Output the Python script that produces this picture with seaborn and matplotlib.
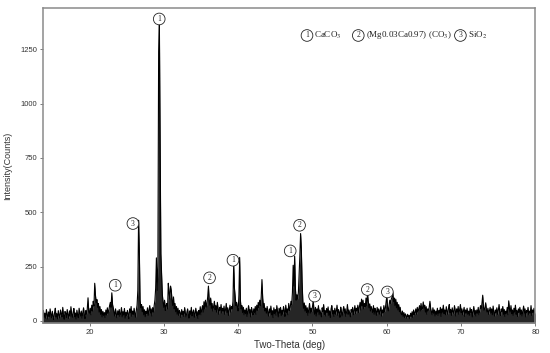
import numpy as np
import pandas as pd
import matplotlib
matplotlib.use('Agg')
import matplotlib.pyplot as plt
import seaborn as sns

# === XRD scan: 13.7 - 80.0 deg, step 0.1 deg ===
start_angle = 13.7
step = 0.1

counts_13 = [22, 48, 15,
             35, 12, 52, 28, 8, 41, 19, 55, 30, 14,
             44, 20, 6, 38, 58, 17, 33, 9, 47, 26,
             13, 50, 31, 18, 62, 24, 7, 43, 36, 15,
             52, 28, 11, 46, 21, 65, 30, 16, 40, 57,
             19, 36, 8, 49, 27, 14, 58, 33, 22, 45,
             12, 38, 60, 25, 10, 47, 31, 55, 106, 42]
counts_20 = [35, 58, 28, 72, 45, 90, 68, 173, 118, 85,
             98, 62, 80, 40, 66, 30, 52, 18, 44, 25,
             38, 15, 50, 27, 60, 33, 48, 70, 85, 62,
             129, 75, 58, 40, 22, 55, 30, 14, 46, 28,
             52, 20, 36, 61, 18, 42, 27, 57, 12, 39,
             24, 48, 31, 10, 55, 37, 66, 21, 45, 29,
             58, 34, 17, 49, 72, 140, 463, 330, 95, 60,
             75, 42, 66, 28, 51, 19, 44, 33, 60, 25,
             48, 70, 36, 55, 22, 61, 40, 70, 95, 150,
             290, 140, 250, 1240, 1370, 820, 310, 210, 120, 85]
counts_30 = [62, 95, 48, 70, 80, 55, 173, 130, 100, 160,
             140, 95, 70, 110, 55, 80, 42, 66, 30, 58,
             25, 48, 36, 15, 52, 28, 44, 20, 61, 33,
             18, 40, 55, 27, 12, 46, 30, 62, 22, 38,
             50, 16, 35, 58, 24, 42, 11, 48, 30, 65,
             28, 52, 70, 40, 88, 55, 95, 62, 80, 110,
             160, 95, 72, 105, 58, 80, 45, 66, 90, 52,
             70, 40, 85, 55, 30, 62, 48, 75, 36, 58,
             44, 68, 30, 52, 80, 38, 60, 25, 49, 72,
             40, 65, 55, 90, 265, 150, 110, 70, 85, 60]
counts_40 = [45, 120, 292, 95, 55, 70, 38, 62, 28, 50,
             33, 58, 20, 46, 70, 35, 52, 18, 61, 40,
             27, 55, 38, 66, 30, 72, 48, 85, 60, 95,
             70, 110, 190, 105, 62, 80, 45, 58, 35, 66,
             40, 22, 55, 36, 68, 28, 47, 15, 60, 33,
             52, 26, 70, 41, 18, 58, 35, 62, 24, 49,
             30, 66, 45, 20, 72, 38, 55, 28, 80, 48,
             60, 90, 75, 130, 256, 160, 298, 150, 95, 120,
             100, 130, 210, 300, 402, 330, 180, 90, 58, 82,
             45, 70, 38, 60, 25, 52, 80, 35, 58, 42]
counts_50 = [66, 95, 48, 30, 62, 22, 55, 40, 70, 28,
             50, 35, 18, 60, 42, 75, 30, 48, 22, 57,
             38, 64, 25, 46, 15, 55, 70, 32, 48, 20,
             58, 30, 45, 72, 26, 52, 38, 16, 63, 40,
             22, 48, 66, 35, 55, 20, 44, 75, 30, 50,
             36, 18, 52, 40, 62, 28, 47, 70, 33, 58,
             45, 72, 38, 60, 85, 50, 100, 68, 95, 55,
             80, 65, 105, 70, 126, 90, 60, 78, 45, 66,
             52, 38, 70, 30, 58, 45, 25, 62, 40, 55,
             30, 48, 65, 22, 50, 36, 70, 42, 58, 85]
counts_60 = [114, 60, 45, 70, 95, 80, 100, 110, 133, 90,
             105, 70, 100, 60, 85, 50, 75, 42, 62, 35,
             28, 45, 20, 38, 15, 32, 22, 12, 30, 18,
             25, 10, 35, 20, 42, 16, 50, 28, 38, 55,
             30, 62, 40, 55, 70, 45, 80, 52, 60, 87,
             58, 72, 40, 65, 30, 55, 48, 62, 90, 55,
             42, 28, 60, 35, 50, 22, 45, 30, 58, 25,
             48, 36, 62, 20, 55, 40, 72, 33, 50, 28,
             65, 45, 30, 58, 75, 38, 52, 25, 60, 42,
             35, 70, 48, 22, 55, 40, 66, 30, 52, 75]
counts_70 = [38, 55, 28, 46, 62, 20, 50, 35, 58, 30,
             45, 25, 60, 38, 52, 18, 42, 66, 30, 48,
             22, 50, 35, 62, 28, 45, 70, 55, 80, 118,
             65, 48, 60, 83, 52, 40, 58, 30, 46, 62,
             35, 55, 28, 68, 40, 22, 50, 36, 60, 30,
             48, 75, 38, 25, 55, 42, 66, 30, 52, 20,
             45, 35, 62, 28, 92, 55, 40, 70, 33, 50,
             25, 58, 40, 72, 30, 48, 20, 55, 38, 62,
             30, 50, 22, 45, 68, 35, 55, 18, 48, 40,
             62, 28, 45, 35, 70, 25, 50, 38, 58, 30,
             42]

# === phase marks (circled numbers) ===
mark_x = [29.38, 25.84, 23.46, 36.15, 39.3, 47.0, 48.26, 50.28, 57.38, 60.07]
mark_y = [1390, 448, 164, 198, 279, 322, 440, 114, 144, 133]
mark_num = ['1', '3', '1', '2', '1', '1', '2', '3', '2', '3']

legend_num = ['1', '2', '3']
legend_text = [r'CaCO$_3$', r'(Mg0.03Ca0.97) (CO$_3$)', r'SiO$_2$']
legend_x = [49.26, 56.16, 69.9]

counts = counts_13 + counts_20 + counts_30 + counts_40 + counts_50 + counts_60 + counts_70
two_theta = np.round(start_angle + step * np.arange(len(counts)), 2)
df = pd.DataFrame({'two_theta': two_theta, 'counts': counts})

sns.set_style('white')
plt.rcParams['font.family'] = ['Liberation Sans', 'DejaVu Sans']
plt.rcParams['mathtext.fontset'] = 'stix'

fig = plt.figure(figsize=(5.5, 3.53), dpi=100)
ax = fig.add_axes([0.0776, 0.085, 0.896, 0.892])

# dense scan looks like a filled black band near the baseline
ax.fill_between(df['two_theta'], -10, df['counts'], color='black', lw=0, alpha=0.85)
sns.lineplot(data=df, x='two_theta', y='counts', color='black', lw=0.8,
             estimator=None, ax=ax)

ax.set_xlim(13.7, 80)
ax.set_ylim(-10, 1440)
ax.set_xticks([20, 30, 40, 50, 60, 70, 80])
ax.set_yticks([0, 250, 500, 750, 1000, 1250])
ax.tick_params(axis='both', labelsize=5.5, labelcolor='#333333', length=2,
               width=0.6, color='#666666', direction='out', pad=2)
ax.tick_params(bottom=True, left=True)
for sp in ax.spines.values():
    sp.set_color('#8a8a8a')
    sp.set_linewidth(1.1)

ax.set_xlabel('Two-Theta (deg)', fontsize=7, color='#333333', labelpad=3)
ax.set_ylabel('Intensity(Counts)', fontsize=6.5, color='#333333', labelpad=6)

circle = dict(boxstyle='circle,pad=0.24', fc='white', ec='#222222', lw=0.6)
for x, y, n in zip(mark_x, mark_y, mark_num):
    ax.text(x, y, n, ha='center', va='center', fontsize=5.5,
            family='Liberation Serif', bbox=circle)

for x, n, t in zip(legend_x, legend_num, legend_text):
    ax.text(x, 1314, n, ha='center', va='center', fontsize=5.5,
            family='Liberation Serif', bbox=circle)
    ax.text(x + 1.0, 1314, t, ha='left', va='center', fontsize=6.5,
            family='Liberation Serif', color='#222222')

fig.savefig('out.png', dpi=100)
